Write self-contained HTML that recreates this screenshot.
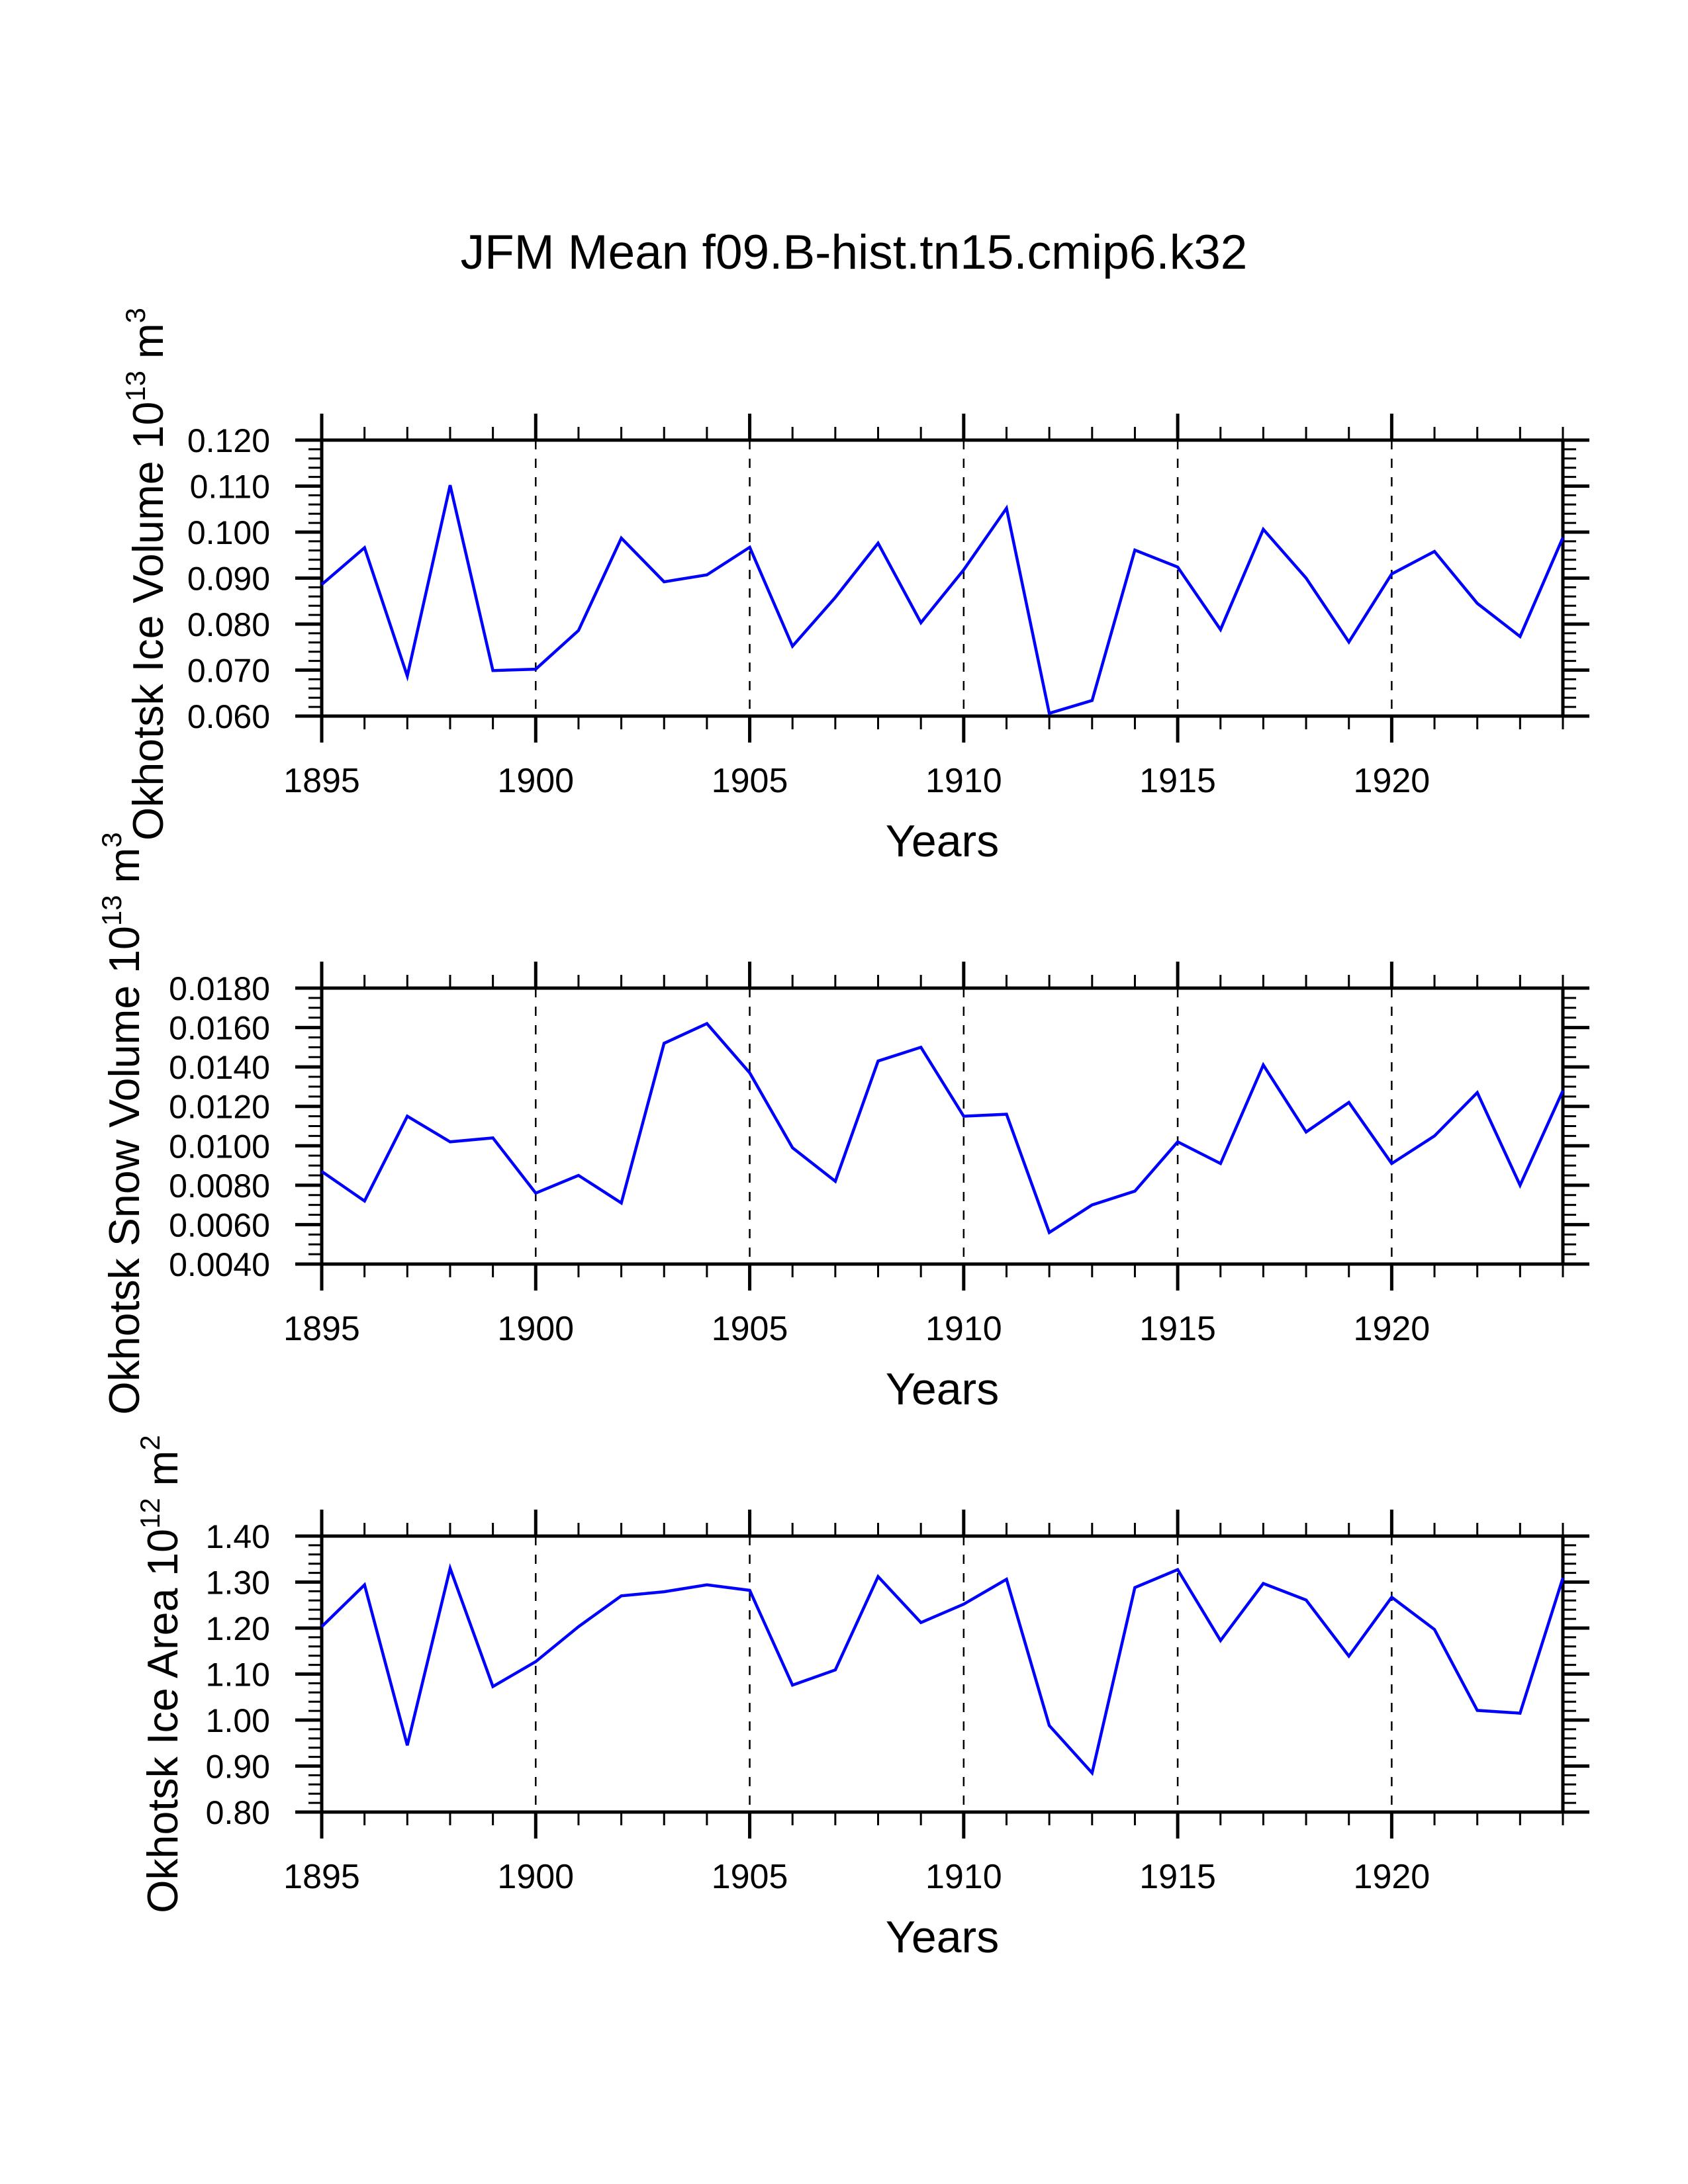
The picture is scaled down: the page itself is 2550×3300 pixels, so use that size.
<!DOCTYPE html>
<html><head><meta charset="utf-8"><style>
html,body{margin:0;padding:0;background:#fff}
svg{display:block;font-family:"Liberation Sans",sans-serif}
</style></head><body>
<svg id="chart" width="2550" height="3300" viewBox="0 0 2550 3300" xmlns="http://www.w3.org/2000/svg">
<text x="1290" y="406" font-size="73" text-anchor="middle">JFM Mean f09.B-hist.tn15.cmip6.k32</text>
</svg>
<script>
const years = [1895,1896,1897,1898,1899,1900,1901,1902,1903,1904,1905,1906,1907,1908,1909,1910,1911,1912,1913,1914,1915,1916,1917,1918,1919,1920,1921,1922,1923,1924];
const iceVolume = [0.0886,0.0966,0.0687,0.1102,0.0699,0.0702,0.0786,0.0987,0.0892,0.0907,0.0967,0.0752,0.0858,0.0976,0.0803,0.0918,0.1052,0.0606,0.0634,0.0961,0.0924,0.0788,0.1006,0.0900,0.0761,0.0909,0.0958,0.0845,0.0773,0.0988];
const snowVolume = [0.0087,0.0072,0.0115,0.0102,0.0104,0.0076,0.0085,0.0071,0.0152,0.0162,0.0137,0.0099,0.0082,0.0143,0.0150,0.0115,0.0116,0.0056,0.0070,0.0077,0.0102,0.0091,0.0141,0.0107,0.0122,0.0091,0.0105,0.0127,0.0080,0.0128];
const iceArea = [1.203,1.294,0.945,1.330,1.073,1.127,1.203,1.270,1.279,1.294,1.282,1.076,1.109,1.312,1.212,1.252,1.306,0.988,0.885,1.288,1.327,1.173,1.297,1.261,1.139,1.267,1.197,1.021,1.015,1.309];
const volTicks = ["0.060","0.070","0.080","0.090","0.100","0.110","0.120"];
const snowTicks = ["0.0040","0.0060","0.0080","0.0100","0.0120","0.0140","0.0160","0.0180"];
const areaTicks = ["0.80","0.90","1.00","1.10","1.20","1.30","1.40"];
const xTickLabels = ["1895","1900","1905","1910","1915","1920"];

const NS="http://www.w3.org/2000/svg";
const svg=document.getElementById('chart');
function mk(tag,attrs,parent){const e=document.createElementNS(NS,tag);for(const k in attrs)e.setAttribute(k,attrs[k]);(parent||svg).appendChild(e);return e;}

const L=486,R=2361,H=417;
const panels=[
 {key:'ice-volume',top:665,data:iceVolume,ticks:volTicks,min:0.06,max:0.12,minorN:5,labelX:246,cyOff:-6,title:['Okhotsk Ice Volume 10','13',' m','3']},
 {key:'snow-volume',top:1493,data:snowVolume,ticks:snowTicks,min:0.004,max:0.018,minorN:4,labelX:210,cyOff:-4,title:['Okhotsk Snow Volume 10','13',' m','3']},
 {key:'ice-area',top:2321,data:iceArea,ticks:areaTicks,min:0.8,max:1.4,minorN:5,labelX:268,cyOff:0,title:['Okhotsk Ice Area 10','12',' m','2']}
];
const x0=years[0],x1=years[years.length-1];
function xs(v){return L+(v-x0)/(x1-x0)*(R-L);}

panels.forEach(p=>{
 const T=p.top,B=p.top+H;
 const g=mk('g',{});
 
 
 const ys=v=>B-(v-p.min)/(p.max-p.min)*H;
 xTickLabels.forEach(t=>{const v=+t; if(v===x0) return;
  const gl=mk('line',{x1:xs(v),x2:xs(v),y1:T,y2:B,stroke:'#000','stroke-width':2.5,'stroke-dasharray':'14,14'},g);
  
  
 });
 for(let yr=x0;yr<=x1;yr++){
  const major=(yr%5===0);const len=major?40:20;const w=major?5:3;
  mk('line',{x1:xs(yr),x2:xs(yr),y1:B,y2:B+len,stroke:'#000','stroke-width':w},g);
  mk('line',{x1:xs(yr),x2:xs(yr),y1:T,y2:T-len,stroke:'#000','stroke-width':w},g);
 }
 const nMaj=p.ticks.length;
 const step=(p.max-p.min)/(nMaj-1);
 for(let i=0;i<nMaj-1;i++){
  for(let j=1;j<p.minorN;j++){
   const yy=ys(p.min+step*(i+j/p.minorN));
   mk('line',{x1:L,x2:L-20,y1:yy,y2:yy,stroke:'#000','stroke-width':3},g);
   mk('line',{x1:R,x2:R+20,y1:yy,y2:yy,stroke:'#000','stroke-width':3},g);
  }
 }
 p.ticks.forEach(t=>{
  const yy=ys(+t);
  mk('line',{x1:L,x2:L-40,y1:yy,y2:yy,stroke:'#000','stroke-width':5},g);
  mk('line',{x1:R,x2:R+40,y1:yy,y2:yy,stroke:'#000','stroke-width':5},g);
  const tl=mk('text',{x:408,y:yy+18,'font-size':50,'text-anchor':'end'},g);
  tl.textContent=t;
  
  
 });
 xTickLabels.forEach(t=>{
  const tl=mk('text',{x:xs(+t),y:B+115,'font-size':52,'text-anchor':'middle'},g);
  tl.textContent=t;
  
  
 });
 const fr=mk('rect',{x:L,y:T,width:R-L,height:H,fill:'none',stroke:'#000','stroke-width':5},g);
 
 
 const pts=years.map((yr,i)=>xs(yr).toFixed(1)+','+ys(p.data[i]).toFixed(1)).join(' ');
 const pl=mk('polyline',{points:pts,fill:'none',stroke:'#0000ff','stroke-width':4.5,'stroke-linejoin':'miter'},g);
 
 
 const xt=mk('text',{x:(L+R)/2,y:B+212,'font-size':68,'text-anchor':'middle'},g);
 xt.textContent='Years';
 
 
 const cy=(T+B)/2+p.cyOff;
 const yt=mk('text',{x:0,y:0,'font-size':64.5,'text-anchor':'middle',transform:`translate(${p.labelX},${cy}) rotate(-90)`},g);
 
 
 const a=mk('tspan',{},yt);a.textContent=p.title[0];
 const b=mk('tspan',{dy:-27,'font-size':42},yt);b.textContent=p.title[1];
 const c=mk('tspan',{dy:27},yt);c.textContent=p.title[2];
 const d=mk('tspan',{dy:-27,'font-size':42},yt);d.textContent=p.title[3];
});
</script>
</body></html>
